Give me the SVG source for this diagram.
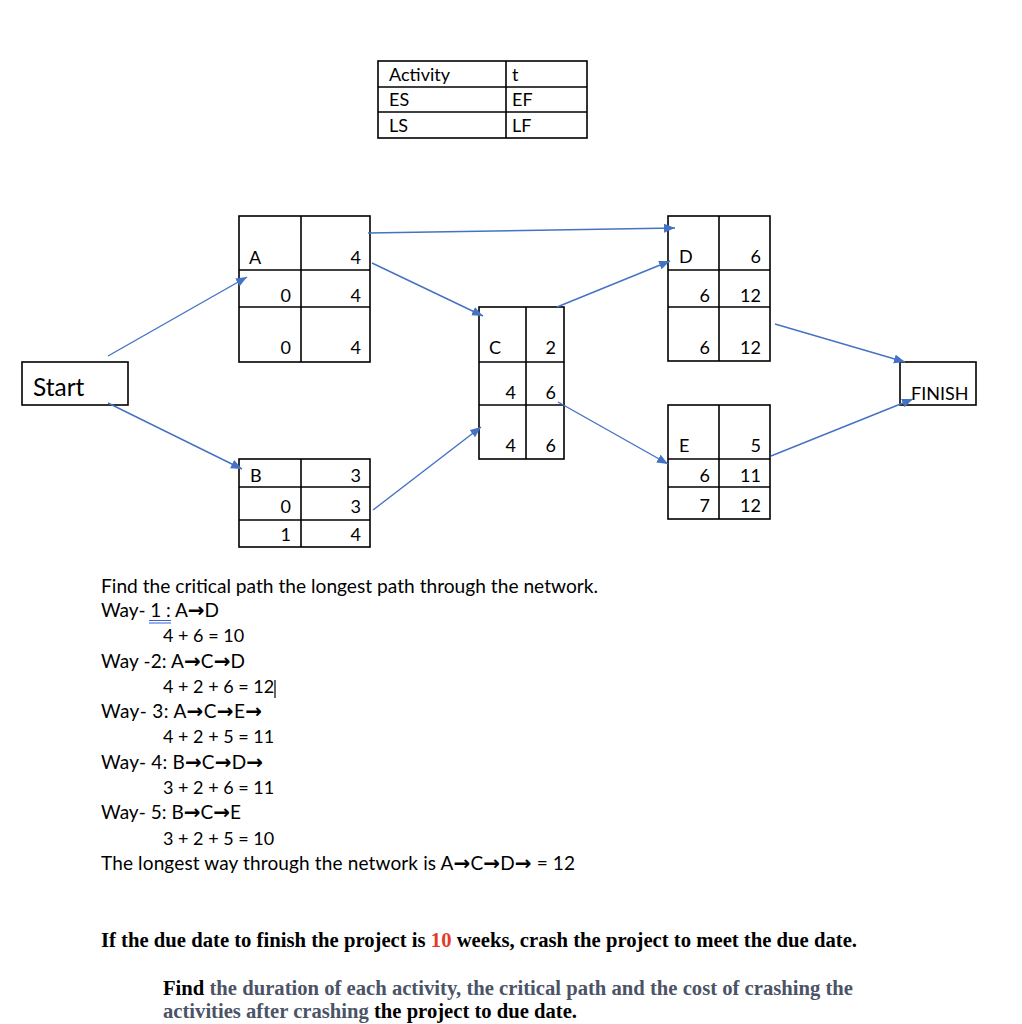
<svg xmlns="http://www.w3.org/2000/svg" width="1022" height="1024" viewBox="0 0 1022 1024">
<defs>
<style>
.box{fill:#fff;stroke:#000;stroke-width:1.6}
.ln{stroke:#000;stroke-width:1.6}
.t{font-family:Lato,"Open Sans","Liberation Sans",sans-serif;font-size:18px;fill:#000}
.n{font-size:19px}
.ar{font-family:"DejaVu Sans",sans-serif;font-weight:bold;font-size:20px}
.e{text-anchor:end}
.c{stroke:#4472C4;stroke-width:1.4;fill:none;marker-end:url(#ah)}
.b{font-family:"Liberation Serif","Times New Roman",serif;font-weight:bold;font-size:20px;fill:#000}
.g{fill:#4b5367}
</style>
<marker id="ah" markerUnits="userSpaceOnUse" markerWidth="12" markerHeight="10" refX="11" refY="4.5" orient="auto">
<path d="M0,0 L11,4.5 L0,9 z" fill="#4472C4"/>
</marker>
</defs>
<rect width="1022" height="1024" fill="#fff"/>

<g id="legend">
<rect class="box" x="378" y="61" width="209" height="77"/>
<line class="ln" x1="506" y1="61" x2="506" y2="138"/>
<line class="ln" x1="378" y1="87" x2="587" y2="87"/>
<line class="ln" x1="378" y1="112" x2="587" y2="112"/>
<text class="t" x="389" y="81">Activity</text>
<text class="t" x="512" y="81">t</text>
<text class="t" x="389" y="106">ES</text>
<text class="t" x="512" y="106">EF</text>
<text class="t" x="389" y="132">LS</text>
<text class="t" x="512" y="132">LF</text>
</g>

<g id="start">
<rect class="box" x="22" y="362" width="106" height="43"/>
<text class="t" x="33" y="396" style="font-size:24.5px">Start</text>
</g>

<g id="nodeA">
<rect class="box" x="239" y="216" width="131" height="146"/>
<line class="ln" x1="301" y1="216" x2="301" y2="362"/>
<line class="ln" x1="239" y1="270" x2="370" y2="270"/>
<line class="ln" x1="239" y1="307" x2="370" y2="307"/>
<text class="t" x="249" y="264">A</text>
<text class="t e" x="361" y="264">4</text>
<text class="t e" x="291" y="302">0</text>
<text class="t e" x="361" y="302">4</text>
<text class="t e" x="291" y="354">0</text>
<text class="t e" x="361" y="354">4</text>
</g>

<g id="nodeB">
<rect class="box" x="239" y="459" width="131" height="88"/>
<line class="ln" x1="301" y1="459" x2="301" y2="547"/>
<line class="ln" x1="239" y1="487" x2="370" y2="487"/>
<line class="ln" x1="239" y1="520" x2="370" y2="520"/>
<text class="t" x="250" y="482">B</text>
<text class="t e" x="361" y="482">3</text>
<text class="t e" x="291" y="513">0</text>
<text class="t e" x="361" y="513">3</text>
<text class="t e" x="291" y="541">1</text>
<text class="t e" x="361" y="541">4</text>
</g>

<g id="nodeC">
<rect class="box" x="479" y="307" width="85" height="152"/>
<line class="ln" x1="526" y1="307" x2="526" y2="459"/>
<line class="ln" x1="479" y1="362" x2="564" y2="362"/>
<line class="ln" x1="479" y1="405" x2="564" y2="405"/>
<text class="t" x="489" y="354">C</text>
<text class="t e" x="556" y="354">2</text>
<text class="t e" x="516" y="399">4</text>
<text class="t e" x="556" y="399">6</text>
<text class="t e" x="516" y="452">4</text>
<text class="t e" x="556" y="452">6</text>
</g>

<g id="nodeD">
<rect class="box" x="668" y="216" width="102" height="145"/>
<line class="ln" x1="719" y1="216" x2="719" y2="361"/>
<line class="ln" x1="668" y1="270" x2="770" y2="270"/>
<line class="ln" x1="668" y1="307" x2="770" y2="307"/>
<text class="t" x="679" y="263">D</text>
<text class="t e" x="761" y="263">6</text>
<text class="t e" x="710" y="302">6</text>
<text class="t e" x="761" y="302">12</text>
<text class="t e" x="710" y="354">6</text>
<text class="t e" x="761" y="354">12</text>
</g>

<g id="nodeE">
<rect class="box" x="668" y="405" width="102" height="114"/>
<line class="ln" x1="719" y1="405" x2="719" y2="519"/>
<line class="ln" x1="668" y1="459" x2="770" y2="459"/>
<line class="ln" x1="668" y1="487" x2="770" y2="487"/>
<text class="t" x="679" y="452">E</text>
<text class="t e" x="761" y="452">5</text>
<text class="t e" x="710" y="482">6</text>
<text class="t e" x="761" y="482">11</text>
<text class="t e" x="710" y="512">7</text>
<text class="t e" x="761" y="512">12</text>
</g>

<g id="finish">
<rect class="box" x="900" y="362" width="76" height="43"/>
<text class="t" x="911" y="400">FINISH</text>
</g>

<g id="connectors">
<path class="c" d="M108,356 L247,277"/>
<path class="c" d="M108,403 L242,469"/>
<path class="c" d="M368,233 L675,228"/>
<path class="c" d="M372,263 L483,316"/>
<path class="c" d="M557,307 L670,261"/>
<path class="c" d="M373,510 L481,427"/>
<path class="c" d="M558,402 L668,464"/>
<path class="c" d="M775,324 L905,362"/>
<path class="c" d="M771,456 L913,399"/>
</g>

<g id="notes">
<text class="t n" x="101" y="593" textLength="497" lengthAdjust="spacingAndGlyphs">Find the critical path the longest path through the network.</text>
<text class="t n" x="101" y="617" textLength="118" lengthAdjust="spacing">Way- 1 : A<tspan class="ar">→</tspan>D</text>
<line x1="149" y1="620.5" x2="171" y2="620.5" stroke="#3b5fd6" stroke-width="1"/>
<line x1="149" y1="623" x2="171" y2="623" stroke="#3b5fd6" stroke-width="1"/>
<text class="t" x="163" y="642">4 + 6 = 10</text>
<text class="t n" x="101" y="668" textLength="144" lengthAdjust="spacing">Way -2: A<tspan class="ar">→</tspan>C<tspan class="ar">→</tspan>D</text>
<text class="t" x="163" y="693">4 + 2 + 6 = 12</text>
<line x1="275" y1="680" x2="275" y2="698" stroke="#000" stroke-width="1.2"/>
<text class="t n" x="101" y="718" textLength="161" lengthAdjust="spacing">Way- 3: A<tspan class="ar">→</tspan>C<tspan class="ar">→</tspan>E<tspan class="ar">→</tspan></text>
<text class="t" x="163" y="743">4 + 2 + 5 = 11</text>
<text class="t n" x="101" y="769" textLength="162" lengthAdjust="spacing">Way- 4: B<tspan class="ar">→</tspan>C<tspan class="ar">→</tspan>D<tspan class="ar">→</tspan></text>
<text class="t" x="163" y="794">3 + 2 + 6 = 11</text>
<text class="t n" x="101" y="819" textLength="140" lengthAdjust="spacing">Way- 5: B<tspan class="ar">→</tspan>C<tspan class="ar">→</tspan>E</text>
<text class="t" x="163" y="845">3 + 2 + 5 = 10</text>
<text class="t n" x="101" y="870" textLength="474" lengthAdjust="spacing">The longest way through the network is A<tspan class="ar">→</tspan>C<tspan class="ar">→</tspan>D<tspan class="ar">→</tspan> = 12</text>
</g>

<g id="question">
<text class="b" x="101" y="947" textLength="756" lengthAdjust="spacingAndGlyphs">If the due date to finish the project is <tspan fill="#e33b2e">10</tspan> weeks, crash the project to meet the due date.</text>
<text class="b" x="163" y="995" textLength="690" lengthAdjust="spacingAndGlyphs">Find <tspan class="g">the duration of each activity, the critical path and the cost of crashing the</tspan></text>
<text class="b" x="163" y="1018" textLength="414" lengthAdjust="spacingAndGlyphs"><tspan class="g">activities after crashing</tspan> the project to due date.</text>
</g>
</svg>
